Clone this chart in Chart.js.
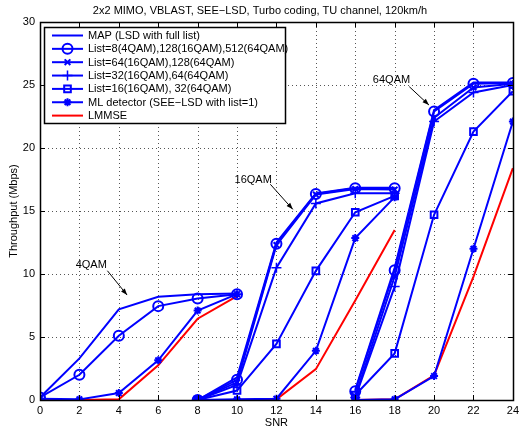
<!DOCTYPE html>
<html>
<head>
<meta charset="utf-8">
<script src="https://cdn.jsdelivr.net/npm/chart.js@4/dist/chart.umd.min.js"></script>
<style>
  body { margin: 0; background: #fff; }
  #wrap { width: 523px; height: 432px; }
</style>
</head>
<body>
<div id="wrap"><canvas id="graph_canva"></canvas></div>
<script>
// SNR points for each modulation segment
var snr4 = [0, 2, 4, 6, 8, 10];
var snr16 = [8, 10, 12, 14, 16, 18];
var snr64 = [16, 18, 20, 22, 24];

// MAP (LSD with full list)
var map4 = [0.2, 3.3, 7.2, 8.2, 8.4, 8.45];
var map16 = [0, 1.8, 12.5, 16.4, 16.85, 16.85];
var map64 = [0.8, 10.5, 23.0, 25.2, 25.2];

// List=8(4QAM),128(16QAM),512(64QAM)
var list8_4 = [0.2, 2.0, 5.1, 7.45, 8.05, 8.4];
var list8_16 = [0, 1.6, 12.4, 16.35, 16.8, 16.8];
var list8_64 = [0.7, 10.3, 22.9, 25.1, 25.15];

// List=64(16QAM),128(64QAM)
var list64_16 = [0, 1.4, 12.3, 16.3, 16.75, 16.7];
var list64_64 = [0.3, 9.8, 22.4, 24.8, 25.1];

// List=32(16QAM),64(64QAM)
var list32_16 = [0, 1.2, 10.5, 15.6, 16.4, 16.4];
var list32_64 = [0.2, 9.0, 22.1, 24.4, 25.0];

// List=16(16QAM), 32(64QAM)
var list16_16 = [0, 0.75, 4.45, 10.25, 14.9, 16.2];
var list16_64 = [0.4, 3.7, 14.7, 21.3, 24.5];

// ML detector
var ml4 = [0.1, 0.05, 0.55, 3.15, 7.1, 8.4];
var ml16 = [0, 0.05, 0.1, 3.9, 12.85, 16.1];
var ml64 = [0, 0.05, 1.9, 12.0, 22.1];

// LMMSE
var lmmse4 = [0, 0, 0.05, 2.75, 6.45, 8.25];
var lmmse16 = [0, 0, 0.05, 2.45, 7.9, 13.5];
var lmmse64 = [0, 0.05, 1.95, 9.8, 18.4];

// axis ticks
var x_ticks = [0, 2, 4, 6, 8, 10, 12, 14, 16, 18, 20, 22, 24];
var y_ticks = [0, 5, 10, 15, 20, 25, 30];

// annotation labels (data coords): text pos, arrow start, arrow end
var note_text = ['4QAM', '16QAM', '64QAM'];
var note_pos = [[2.6, 10.7], [10.82, 17.45], [17.84, 25.4]];
var note_from = [[3.42, 10.26], [11.69, 17.12], [18.74, 24.87]];
var note_to = [[4.42, 8.33], [12.83, 15.13], [19.74, 23.41]];

var BLUE = '#0000ff';
var RED = '#ff0000';
var FONT = '"Liberation Sans", Arial, Helvetica, sans-serif';

// joins segments, with a null point between them so the line breaks
function build( parts ){
    var out = [];
    for( var k = 0; k < parts.length; k++ ){
        var xs = parts[k][0], ys = parts[k][1];
        if( k > 0 ) out.push({ x: xs[0], y: null });
        for( var i = 0; i < xs.length; i++ ) out.push({ x: xs[i], y: ys[i] });
    }
    return out;
}

function series( label, data, color, style, radius, bw ){
    return {
        label: label,
        data: data,
        borderColor: color,
        backgroundColor: 'rgba(0,0,0,0)',
        pointBorderColor: color,
        pointBackgroundColor: 'rgba(0,0,0,0)',
        borderWidth: 2,
        pointStyle: style || 'circle',
        pointRadius: radius || 0,
        pointBorderWidth: bw || 2,
        tension: 0,
        spanGaps: false,
        fill: false
    };
}

var datasets = [
    series('MAP (LSD with full list)', build([[snr4, map4], [snr16, map16], [snr64, map64]]), BLUE, false, 0),
    series('List=8(4QAM),128(16QAM),512(64QAM)', build([[snr4, list8_4], [snr16, list8_16], [snr64, list8_64]]), BLUE, 'circle', 5, 2),
    series('List=64(16QAM),128(64QAM)', build([[snr16, list64_16], [snr64, list64_64]]), BLUE, 'crossRot', 4, 2),
    series('List=32(16QAM),64(64QAM)', build([[snr16, list32_16], [snr64, list32_64]]), BLUE, 'cross', 5, 1.5),
    series('List=16(16QAM), 32(64QAM)', build([[snr16, list16_16], [snr64, list16_64]]), BLUE, 'rect', 4.7, 2),
    series('ML detector (SEE\u2212LSD with list=1)', build([[snr4, ml4], [snr16, ml16], [snr64, ml64]]), BLUE, 'star', 4, 2),
    series('LMMSE', build([[snr4, lmmse4], [snr16, lmmse16], [snr64, lmmse64]]), RED, false, 0)
];

// dotted grid (drawn here so the dash pattern is exact)
var grid_plugin = {
    id: 'dotgrid',
    beforeDatasetsDraw: function( chart ){
        var ctx = chart.ctx, a = chart.chartArea;
        var xs = chart.scales.x, ys = chart.scales.y;
        ctx.save();
        ctx.strokeStyle = '#555';
        ctx.lineWidth = 1;
        ctx.setLineDash([1, 3]);
        ctx.beginPath();
        for( var i = 1; i < x_ticks.length - 1; i++ ){
            var px = Math.round(xs.getPixelForValue(x_ticks[i])) + 0.5;
            ctx.moveTo(px, a.bottom); ctx.lineTo(px, a.top);
        }
        for( var j = 1; j < y_ticks.length - 1; j++ ){
            var py = Math.round(ys.getPixelForValue(y_ticks[j])) + 0.5;
            ctx.moveTo(a.left, py); ctx.lineTo(a.right, py);
        }
        ctx.stroke();
        ctx.restore();
    }
};

// box round the plot and inward tick marks (matlab look)
var frame_plugin = {
    id: 'frame',
    afterDatasetsDraw: function( chart ){
        var ctx = chart.ctx, a = chart.chartArea;
        var xs = chart.scales.x, ys = chart.scales.y;
        ctx.save();
        ctx.strokeStyle = '#000';
        ctx.lineWidth = 1;
        ctx.beginPath();
        for( var i = 0; i < x_ticks.length; i++ ){
            var px = Math.round(xs.getPixelForValue(x_ticks[i])) + 0.5;
            ctx.moveTo(px, a.bottom); ctx.lineTo(px, a.bottom - 5);
            ctx.moveTo(px, a.top); ctx.lineTo(px, a.top + 5);
        }
        for( var j = 0; j < y_ticks.length; j++ ){
            var py = Math.round(ys.getPixelForValue(y_ticks[j])) + 0.5;
            ctx.moveTo(a.left, py); ctx.lineTo(a.left + 5, py);
            ctx.moveTo(a.right, py); ctx.lineTo(a.right - 5, py);
        }
        ctx.stroke();
        ctx.lineWidth = 1.5;
        ctx.strokeRect(Math.round(a.left) + 0.5, Math.round(a.top) + 0.5, Math.round(a.right - a.left), Math.round(a.bottom - a.top));
        ctx.restore();
    }
};

// arrows and modulation labels
var notes_plugin = {
    id: 'notes',
    afterDatasetsDraw: function( chart ){
        var ctx = chart.ctx, xs = chart.scales.x, ys = chart.scales.y;
        ctx.save();
        ctx.font = '11px ' + FONT;
        ctx.fillStyle = '#000';
        ctx.strokeStyle = '#000';
        ctx.textAlign = 'center';
        ctx.textBaseline = 'middle';
        for( var i = 0; i < note_text.length; i++ ){
            ctx.fillText(note_text[i], xs.getPixelForValue(note_pos[i][0]), ys.getPixelForValue(note_pos[i][1]));
            var x0 = xs.getPixelForValue(note_from[i][0]), y0 = ys.getPixelForValue(note_from[i][1]);
            var x1 = xs.getPixelForValue(note_to[i][0]), y1 = ys.getPixelForValue(note_to[i][1]);
            var ang = Math.atan2(y1 - y0, x1 - x0);
            ctx.lineWidth = 1;
            ctx.beginPath(); ctx.moveTo(x0, y0); ctx.lineTo(x1, y1); ctx.stroke();
            ctx.beginPath();
            ctx.moveTo(x1, y1);
            ctx.lineTo(x1 - 7 * Math.cos(ang - 0.35), y1 - 7 * Math.sin(ang - 0.35));
            ctx.lineTo(x1 - 7 * Math.cos(ang + 0.35), y1 - 7 * Math.sin(ang + 0.35));
            ctx.closePath(); ctx.fill();
        }
        ctx.restore();
    }
};

// legend box in the top-left of the plot, line + marker like matlab
var legend_plugin = {
    id: 'boxlegend',
    afterDraw: function( chart ){
        var ctx = chart.ctx, a = chart.chartArea;
        var left = a.left + 4, top = a.top + 5, w = 241, h = 96;
        ctx.save();
        ctx.fillStyle = '#fff';
        ctx.fillRect(left, top, w, h);
        ctx.strokeStyle = '#000';
        ctx.lineWidth = 1.5;
        ctx.strokeRect(Math.round(left) + 0.5, Math.round(top) + 0.5, w, h);
        ctx.font = '11px ' + FONT;
        ctx.textBaseline = 'middle';
        ctx.textAlign = 'left';
        chart.data.datasets.forEach(function( ds, i ){
            var y = top + 8.5 + i * 13.35;
            ctx.strokeStyle = ds.borderColor;
            ctx.lineWidth = 2;
            ctx.beginPath(); ctx.moveTo(left + 8, y); ctx.lineTo(left + 39, y); ctx.stroke();
            if( ds.pointRadius > 0 ){
                ctx.fillStyle = 'rgba(0,0,0,0)';
                ctx.lineWidth = ds.pointBorderWidth;
                Chart.helpers.drawPoint(ctx, { pointStyle: ds.pointStyle, radius: ds.pointRadius, rotation: 0, borderWidth: ds.pointBorderWidth }, left + 23.5, y);
            }
            ctx.fillStyle = '#000';
            ctx.fillText(ds.label, left + 44, y + 0.5);
        });
        ctx.restore();
    }
};

var ctx = document.getElementById('graph_canva').getContext('2d');

var _GRAPH = new Chart(ctx, {
    type: 'line',
    data: { datasets: datasets },
    plugins: [grid_plugin, frame_plugin, notes_plugin, legend_plugin],
    options: {
        responsive: true,
        maintainAspectRatio: false,
        animation: false,
        events: [],
        layout: { padding: { left: 0, right: 3, top: 0, bottom: 0 } },
        plugins: {
            legend: { display: false },
            tooltip: { enabled: false },
            title: {
                display: true,
                text: '2x2 MIMO, VBLAST, SEE\u2212LSD, Turbo coding, TU channel, 120km/h',
                color: '#000',
                font: { family: FONT, size: 11, weight: 'normal' },
                padding: { top: 4, bottom: 4.8 }
            }
        },
        scales: {
            x: {
                type: 'linear',
                min: 0,
                max: 24,
                afterFit: function( s ){ s.height = 32; },
                afterBuildTicks: function( s ){ s.ticks = x_ticks.map(function( v ){ return { value: v }; }); },
                ticks: { color: '#000', padding: 4, font: { family: FONT, size: 11 }, maxRotation: 0 },
                grid: { display: false, drawTicks: false },
                border: { display: false },
                title: { display: true, text: 'SNR', color: '#000', font: { family: FONT, size: 11 }, padding: { top: 0, bottom: 2 } }
            },
            y: {
                min: 0,
                max: 30,
                afterFit: function( s ){ s.width = 40; },
                afterBuildTicks: function( s ){ s.ticks = y_ticks.map(function( v ){ return { value: v }; }); },
                ticks: { color: '#000', padding: 5, font: { family: FONT, size: 11 } },
                grid: { display: false, drawTicks: false },
                border: { display: false },
                title: { display: true, text: 'Throughput (Mbps)', color: '#000', font: { family: FONT, size: 11 }, padding: { top: 7.4, bottom: 0 } }
            }
        }
    }
});
</script>
</body>
</html>
